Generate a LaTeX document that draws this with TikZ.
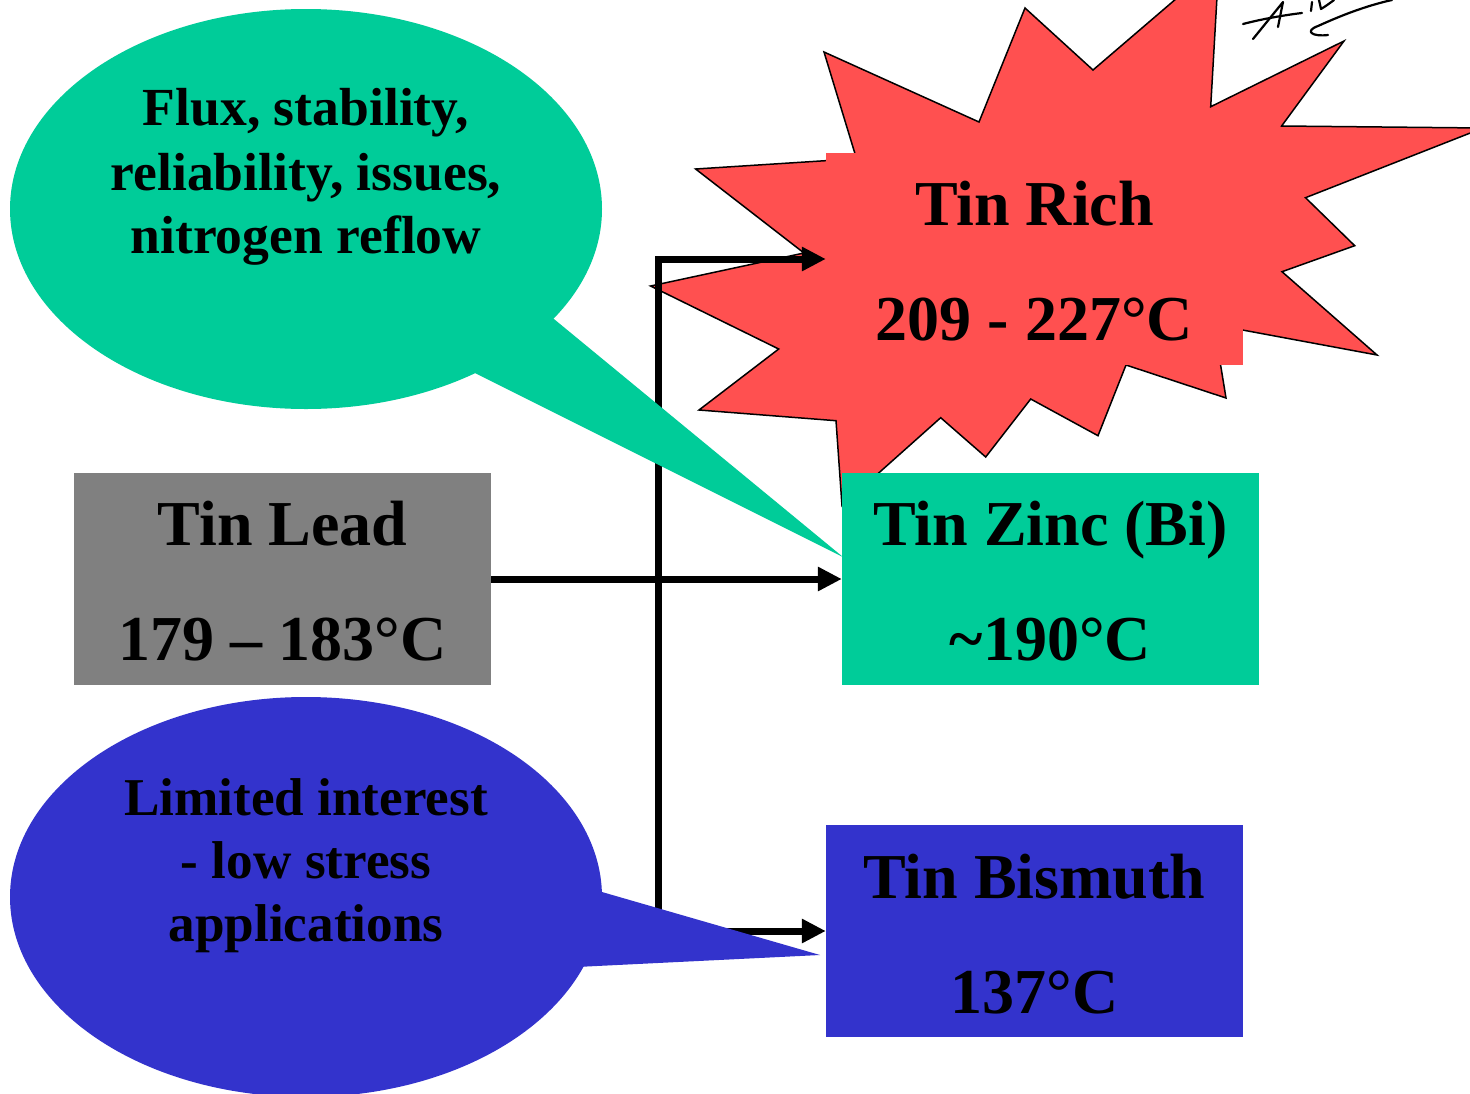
\documentclass[tikz,border=0pt]{standalone}
\usepackage{fontspec}
\setmainfont{Liberation Serif}
\usetikzlibrary{arrows.meta}
\definecolor{tgreen}{HTML}{00CC99}
\definecolor{tred}{HTML}{FF5050}
\definecolor{tblue}{HTML}{3333CC}
\definecolor{tgray}{HTML}{808080}
\begin{document}
\begin{tikzpicture}[x=1pt,y=-1pt,
  boxstyle/.style={rectangle, minimum width=417pt, minimum height=212pt, inner sep=0pt, draw=none},
  bigtxt/.style={font=\fontsize{64}{64}\selectfont\bfseries, anchor=base, inner sep=0pt},
  gtxt/.style={font=\fontsize{53.6}{53.6}\selectfont\bfseries, anchor=base, inner sep=0pt},
  btxt/.style={font=\fontsize{53.2}{53.2}\selectfont\bfseries, anchor=base, inner sep=0pt},
  conn/.style={line width=7pt, line join=miter, -{Triangle[length=24pt,width=23pt]}},
  pen/.style={line width=2.2pt, line cap=round, line join=round}]
\useasboundingbox (0,0) rectangle (1470,1093);
\clip (0,0) rectangle (1470,1093);
\fill[white] (0,0) rectangle (1470,1093);

% starburst
\path[fill=tred, draw=black, line width=1.5pt, line join=miter]
  (650.6,286) -- (804,253) -- (695.6,169) -- (856.5,158.7) -- (824,52)
  -- (979,122) -- (1025,8) -- (1093,70) -- (1219,-38) -- (1210.7,106.7)
  -- (1344,41) -- (1281.6,126) -- (1483,128) -- (1305.5,197.7) -- (1354.7,245.7)
  -- (1282,271.7) -- (1377,355) -- (1214,324.7) -- (1226,398) -- (1126,365)
  -- (1098,435.7) -- (1030.7,399) -- (985.7,457) -- (940.7,417.7) -- (842,505.7)
  -- (836,420.7) -- (699,410) -- (778.7,349) -- cycle;
\node (rich) [boxstyle, fill=tred] at (1034.5,259) {};

% boxes
\node (lead) [boxstyle, fill=tgray]  at (282.5,579) {};
\node (zinc) [boxstyle, fill=tgreen] at (1050.5,579) {};
\node (bis)  [boxstyle, fill=tblue]  at (1034.5,931) {};

% connectors
\coordinate (branch) at (658,579);
\draw[conn] (lead.east) -- (zinc.west);
\draw[conn] (branch) |- (rich.west);
\draw[conn] (branch) |- (bis.west);

% bubbles
\fill[tgreen] (306,209) ellipse [x radius=296pt, y radius=200pt];
\fill[tgreen] (526,296) -- (843,557) -- (441,356) -- cycle;
\fill[tblue] (306,897) ellipse [x radius=296pt, y radius=200pt];
\fill[tblue] (557,879) -- (820,955) -- (536,969) -- cycle;

% texts
\node (richA) [bigtxt] at (1034.5,225) {Tin Rich};
\node (richB) [bigtxt] at (1034.5,340) {209 - 227°C};
\node (leadA) [bigtxt] at (282.5,545) {Tin Lead};
\node (leadB) [bigtxt] at (282.5,660) {179 – 183°C};
\node (zincA) [bigtxt] at (1050.5,545) {Tin Zinc (Bi)};
\node (zincB) [bigtxt] at (1050.5,660) {\textasciitilde190°C};
\node (bisA)  [bigtxt] at (1034.5,898) {Tin Bismuth};
\node (bisB)  [bigtxt] at (1034.5,1013) {137°C};

\node (g1) [gtxt] at (306,125) {Flux, stability,};
\node (g2) [gtxt] at (306,190) {reliability, issues,};
\node (g3) [gtxt] at (306,253) {nitrogen reflow};

\node (b1) [btxt] at (306,815) {Limited interest};
\node (b2) [btxt] at (306,878) {- low stress};
\node (b3) [btxt] at (306,941) {applications};

% handwritten mark
\draw[pen] (1243,24) .. controls (1262,19) and (1285,15) .. (1302,13);
\draw[pen] (1253,39) -- (1283,2) -- (1278,27);
\draw[pen] (1328,35) .. controls (1312,37) and (1304,31) .. (1318,26) .. controls (1340,16) and (1365,6) .. (1392,0);
\draw[pen] (1312,2) -- (1311,11);
\draw[pen] (1319,0) -- (1321,9) .. controls (1326,6) and (1330,3) .. (1334,0);
\end{tikzpicture}
\end{document}
